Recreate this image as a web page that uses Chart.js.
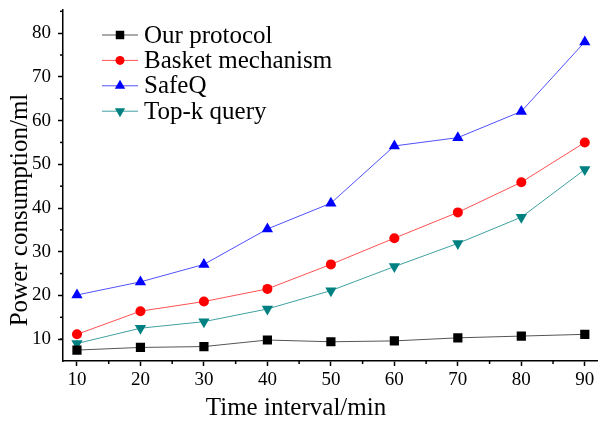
<!DOCTYPE html>
<html>
<head>
<meta charset="utf-8">
<script src="https://cdn.jsdelivr.net/npm/chart.js"></script>
<style>
  body { margin: 0; background: #fff; }
  #wrap { width: 604px; height: 421px; }
</style>
</head>
<body>
<div id="wrap"><canvas id="powerChart"></canvas></div>
<script>
var timeIntervals = [10, 20, 30, 40, 50, 60, 70, 80, 90];
var ourProtocol = [7.5, 8.1, 8.3, 9.8, 9.4, 9.6, 10.3, 10.7, 11.1];
var basketMechanism = [11.1, 16.4, 18.6, 21.5, 27.1, 33.1, 39, 45.9, 55];
var safeQ = [20.1, 23.1, 27.1, 35.2, 41.1, 54.2, 56.1, 62.1, 78];
var topKQuery = [9, 12.5, 14, 16.9, 21.1, 26.6, 31.9, 37.9, 48.8];
var xTicks = [10, 20, 30, 40, 50, 60, 70, 80, 90];
var yTicks = [10, 20, 30, 40, 50, 60, 70, 80];

const FONT = '"Liberation Serif", serif';
Chart.defaults.font.family = FONT;
Chart.defaults.color = '#000';

function pts(values) {
    return timeIntervals.map(function (t, i) { return { x: t, y: values[i] }; });
}

function drawMarker(ctx, style, rotation, x, y, r, color) {
    ctx.save();
    ctx.fillStyle = color;
    ctx.beginPath();
    if (style === 'rect') {
        var s = r * Math.SQRT1_2;
        ctx.rect(x - s, y - s, 2 * s, 2 * s);
    } else if (style === 'circle') {
        ctx.arc(x, y, r, 0, Math.PI * 2);
    } else {
        var a = rotation * Math.PI / 180;
        for (var k = 0; k < 3; k++) {
            var ang = a + k * 2 * Math.PI / 3;
            var px = x + Math.sin(ang) * r, py = y - Math.cos(ang) * r;
            if (k === 0) ctx.moveTo(px, py); else ctx.lineTo(px, py);
        }
        ctx.closePath();
    }
    ctx.fill();
    ctx.restore();
}

// minor ticks, axis titles and the in-plot legend
const extras = {
    id: 'extras',
    afterDraw(chart) {
        const ctx = chart.ctx;
        const area = chart.chartArea;
        const xs = chart.scales.x, ys = chart.scales.y;
        ctx.save();
        ctx.strokeStyle = '#000';
        ctx.lineWidth = 1.5;
        xTicks.forEach(function (v) {
            var px = xs.getPixelForValue(v + 5);
            if (v + 5 < xs.max) {
                ctx.beginPath(); ctx.moveTo(px, area.bottom); ctx.lineTo(px, area.bottom + 3); ctx.stroke();
            }
        });
        [5].concat(yTicks).forEach(function (v) {
            var py = ys.getPixelForValue(v + 5);
            if (v + 5 < ys.max) {
                ctx.beginPath(); ctx.moveTo(area.left - 3, py); ctx.lineTo(area.left, py); ctx.stroke();
            }
        });

        ctx.fillStyle = '#000';
        ctx.font = '25px ' + FONT;
        ctx.textAlign = 'center';
        ctx.textBaseline = 'middle';
        ctx.fillText('Time interval/min', area.left + 233, area.bottom + 47);
        ctx.save();
        ctx.translate(20, area.top + 200);
        ctx.rotate(-Math.PI / 2);
        ctx.fillText('Power consumption/ml', 0, 0);
        ctx.restore();

        // legend
        ctx.textAlign = 'left';
        chart.data.datasets.forEach(function (ds, i) {
            var y = area.top + 25 + i * 25.4;
            var x0 = area.left + 39;
            ctx.strokeStyle = ds.borderColor;
            ctx.lineWidth = 1;
            ctx.beginPath(); ctx.moveTo(x0, y); ctx.lineTo(x0 + 36, y); ctx.stroke();
            drawMarker(ctx, ds.pointStyle, ds.pointRotation || 0, x0 + 18, y, ds.pointRadius - 0.5, ds.pointBackgroundColor);
            ctx.fillStyle = '#000';
            ctx.fillText(ds.label, x0 + 42, y + 1);
        });
        ctx.restore();
    }
};

const data = {
    datasets: [{
        label: 'Our protocol',
        data: pts(ourProtocol),
        borderColor: '#555555',
        pointBackgroundColor: '#000000',
        pointBorderColor: '#000000',
        pointStyle: 'rect',
        pointRadius: 6.5
    }, {
        label: 'Basket mechanism',
        data: pts(basketMechanism),
        borderColor: '#ff5050',
        pointBackgroundColor: '#ff0000',
        pointBorderColor: '#ff0000',
        pointStyle: 'circle',
        pointRadius: 5
    }, {
        label: 'SafeQ',
        data: pts(safeQ),
        borderColor: '#5050ff',
        pointBackgroundColor: '#0000ff',
        pointBorderColor: '#0000ff',
        pointStyle: 'triangle',
        pointRadius: 6.5
    }, {
        label: 'Top-k query',
        data: pts(topKQuery),
        borderColor: '#40a0a0',
        pointBackgroundColor: '#008080',
        pointBorderColor: '#008080',
        pointStyle: 'triangle',
        pointRotation: 180,
        pointRadius: 6.5
    }]
};

var ctx = document.getElementById('powerChart').getContext('2d');
var powerChart = new Chart(ctx, {
    type: 'line',
    data: data,
    options: {
        responsive: true,
        maintainAspectRatio: false,
        animation: false,
        elements: { line: { borderWidth: 1, tension: 0 }, point: { borderWidth: 0 } },
        layout: { padding: { top: 10, right: 2, bottom: 0, left: 0 } },
        plugins: { legend: { display: false }, tooltip: { enabled: false } },
        scales: {
            x: {
                type: 'linear',
                min: 7.8,
                max: 92,
                afterBuildTicks: function (scale) { scale.ticks = xTicks.map(function (v) { return { value: v }; }); },
                afterFit: function (scale) { scale.height = 60; scale.paddingLeft = 0; scale.paddingRight = 0; },
                grid: { drawOnChartArea: false, tickLength: 5, tickWidth: 1.5, tickColor: '#000' },
                border: { display: true, color: '#000', width: 1.5 },
                ticks: { color: '#000', padding: 3, maxRotation: 0, font: { family: FONT, size: 19 } }
            },
            y: {
                min: 5,
                max: 85.3,
                afterBuildTicks: function (scale) { scale.ticks = yTicks.map(function (v) { return { value: v }; }); },
                afterFit: function (scale) { scale.width = 63; scale.paddingTop = 0; scale.paddingBottom = 0; },
                grid: { drawOnChartArea: false, tickLength: 5, tickWidth: 1.5, tickColor: '#000' },
                border: { display: true, color: '#000', width: 1.5 },
                ticks: { color: '#000', padding: 7, font: { family: FONT, size: 19 } }
            }
        }
    },
    plugins: [extras]
});
</script>
</body>
</html>
